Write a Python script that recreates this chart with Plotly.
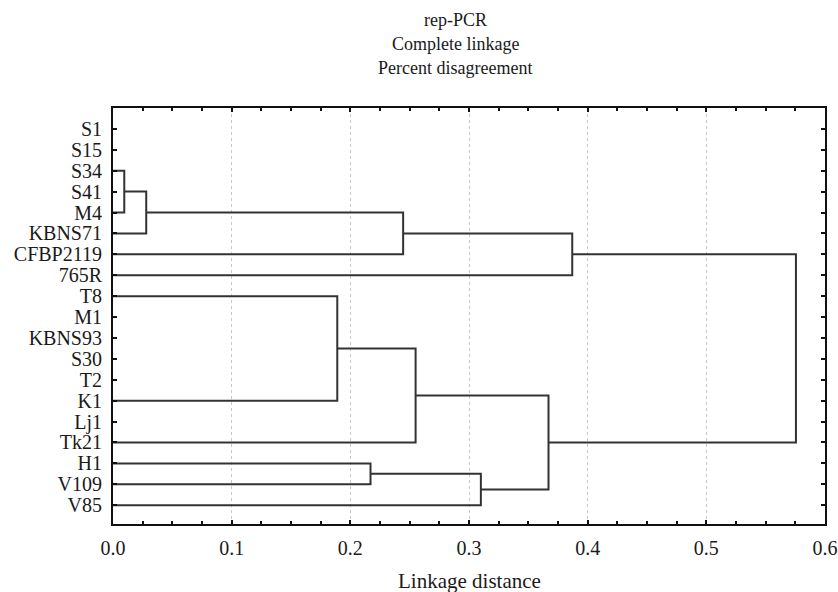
import plotly.graph_objects as go

# ---- data ----
leaves = ["S1", "S15", "S34", "S41", "M4", "KBNS71", "CFBP2119", "765R",
          "T8", "M1", "KBNS93", "S30", "T2", "K1", "Lj1", "Tk21",
          "H1", "V109", "V85"]

# (cluster name, child 1, child 2, linkage distance)
merge_names = ["A", "A2", "B", "C", "D", "E", "F",
               "G1", "G2", "G3", "G4", "H", "I", "J", "K", "L", "M", "N"]
merge_left = ["S1", "A", "S41", "A2", "C", "D", "E",
              "M1", "G1", "G2", "G3", "T8", "Lj1", "H", "H1", "K", "J", "F"]
merge_right = ["S15", "S34", "M4", "B", "KBNS71", "CFBP2119", "765R",
               "KBNS93", "S30", "T2", "K1", "G4", "Tk21", "I", "V109", "V85", "L", "M"]
merge_dist = [0.0, 0.0, 0.0, 0.0095, 0.028, 0.2445, 0.387,
              0.0, 0.0, 0.0, 0.0, 0.189, 0.0, 0.255, 0.217, 0.310, 0.367, 0.5755]

x_tick_vals = [0.0, 0.1, 0.2, 0.3, 0.4, 0.5, 0.6]
x_tick_text = ["0.0", "0.1", "0.2", "0.3", "0.4", "0.5", "0.6"]

title_lines = ["rep-PCR", "Complete linkage", "Percent disagreement"]
x_title = "Linkage distance"

# ---- dendrogram geometry from linkage ----
pos = {name: i for i, name in enumerate(leaves)}
hgt = {name: 0.0 for name in leaves}
xs, ys = [], []
for name, a, b, d in zip(merge_names, merge_left, merge_right, merge_dist):
    if d == 0:
        pos[name] = pos[b]
        hgt[name] = 0.0
        continue
    ya, yb = pos[a], pos[b]
    xs += [hgt[a], d, d, hgt[b], None]
    ys += [ya, ya, yb, yb, None]
    pos[name] = (ya + yb) / 2
    hgt[name] = d

FONT = "Liberation Serif"

fig = go.Figure()
fig.add_trace(go.Scatter(x=xs, y=ys, mode="lines",
                         line=dict(color="#333333", width=2),
                         hoverinfo="skip", showlegend=False))

fig.update_layout(
    width=838, height=592,
    margin=dict(l=113, r=13, t=108, b=68, autoexpand=False),
    paper_bgcolor="white", plot_bgcolor="white",
    font=dict(family=FONT, color="#1a1a1a", size=20),
    showlegend=False,
)

fig.update_xaxes(
    range=[0, 0.6], tickvals=x_tick_vals, ticktext=x_tick_text,
    showline=True, linecolor="#111", linewidth=2, mirror="all",
    ticks="inside", ticklen=4, tickwidth=1.5, tickcolor="#111",
    minor=dict(dtick=0.025, tick0=0, ticks="inside", ticklen=3,
               tickwidth=1.5, tickcolor="#111", showgrid=False),
    showgrid=True, gridcolor="#c8c8c8", gridwidth=1, griddash="dot",
    zeroline=False, ticklabelstandoff=5, automargin=False,
    tickfont=dict(family=FONT, size=20, color="#1a1a1a"),
)
fig.update_yaxes(
    range=[18.9, -1.0], tickvals=list(range(len(leaves))), ticktext=leaves,
    showline=True, linecolor="#111", linewidth=2, mirror="all",
    ticks="inside", ticklen=4, tickwidth=1.5, tickcolor="#111",
    showgrid=False, zeroline=False, ticklabelstandoff=5, automargin=False,
    tickfont=dict(family=FONT, size=20, color="#1a1a1a"),
)

title_y_px = [20, 44, 68]
for txt, ypx in zip(title_lines, title_y_px):
    fig.add_annotation(text=txt, xref="paper", yref="paper",
                       x=(455 - 113) / 712, y=(524 - ypx) / 416,
                       xanchor="center", yanchor="middle", showarrow=False,
                       font=dict(family=FONT, size=18, color="#1a1a1a"))

fig.add_annotation(text=x_title, xref="paper", yref="paper",
                   x=0.5, y=(524 - 581) / 416, xanchor="center", yanchor="middle",
                   showarrow=False, font=dict(family=FONT, size=21, color="#1a1a1a"))

fig.write_html("out.html", config={"displayModeBar": False},
               post_script="document.body.style.margin='0';document.body.style.overflow='hidden';")
